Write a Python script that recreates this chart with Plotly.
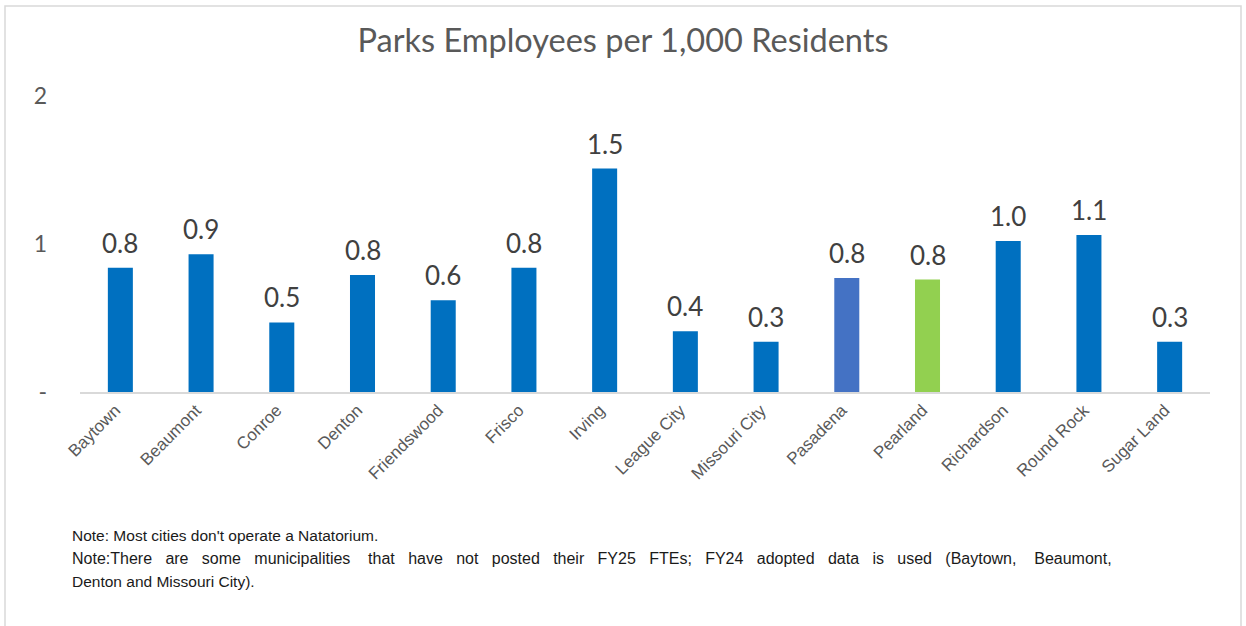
import plotly.graph_objects as go

# Parks staffing per 1,000 residents by city
cities = ["Baytown", "Beaumont", "Conroe", "Denton", "Friendswood", "Frisco", "Irving",
          "League City", "Missouri City", "Pasadena", "Pearland", "Richardson",
          "Round Rock", "Sugar Land"]
employees_per_1000 = [0.84, 0.93, 0.47, 0.79, 0.62, 0.84, 1.51,
                      0.41, 0.34, 0.77, 0.76, 1.02, 1.06, 0.34]
y_tick_values = [0, 1, 2]
y_tick_labels = ["-", "1", "2"]

BLUE = "#0070C0"
bar_colors = [BLUE] * len(cities)
bar_colors[cities.index("Pasadena")] = "#4472C4"
bar_colors[cities.index("Pearland")] = "#92D050"

note_lines = [
    "Note: Most cities don't operate a Natatorium.",
    "Note:There are some municipalities  that have not posted their FY25 FTEs; "
    "FY24 adopted data is used (Baytown,  Beaumont,",
    "Denton and Missouri City).",
]
justified_lines = [False, True, False]


def justify(text):
    """Spread the words of a full-width paragraph line (plain text, no markup)."""
    return text.replace("  ", "\u00a0").replace(" ", "   ").replace("\u00a0", "    ")


fig = go.Figure(
    go.Bar(
        x=cities,
        y=employees_per_1000,
        marker=dict(color=bar_colors, line=dict(width=0)),
        width=0.31,
        hoverinfo="x+y",
    )
)

# value labels above each bar
for city, value in zip(cities, employees_per_1000):
    fig.add_annotation(
        x=city, y=value, text=f"{value:.1f}",
        xanchor="center", yanchor="bottom", yshift=7,
        showarrow=False,
        font=dict(family="Lato, Carlito, sans-serif", size=26, color="#404040"),
    )

# plot area geometry (pixels) used to place the outer frame and notes
W, H = 1246, 626
L, R, T, B = 80, 36, 96, 234
pw, ph = W - L - R, H - T - B


def px_x(x):
    return (x - L) / pw


def px_y(y):
    return (H - B - y) / ph


fig.add_shape(
    type="rect", xref="paper", yref="paper",
    x0=px_x(5), x1=px_x(1241), y0=px_y(640), y1=px_y(6),
    line=dict(color="#d9d9d9", width=1.5), fillcolor="rgba(0,0,0,0)",
    layer="below",
)

for i, (line, just) in enumerate(zip(note_lines, justified_lines)):
    fig.add_annotation(
        text=justify(line) if just else line, xref="paper", yref="paper",
        x=px_x(70), y=px_y(535 + 23 * i), xanchor="left", yanchor="middle",
        align="left", showarrow=False,
        font=dict(family="Liberation Sans, Arial, sans-serif",
                  size=16 if just else 15.5, color="#1a1a1a"),
    )

fig.update_layout(
    width=W, height=H,
    margin=dict(l=L, r=R, t=T, b=B, pad=0),
    paper_bgcolor="white", plot_bgcolor="white",
    showlegend=False,
    bargap=0.69,
    title=dict(
        text="Parks Employees per 1,000 Residents",
        x=0.5, xref="container", xanchor="center",
        y=1 - 41 / H, yanchor="middle",
        font=dict(family="Lato, Carlito, sans-serif", size=32.5, color="#595959"),
    ),
    xaxis=dict(
        showline=True, linecolor="#d9d9d9", linewidth=1.5,
        showgrid=False, ticks="",
        tickangle=-45,
        ticklabelshift=-5,
        tickfont=dict(family="Liberation Sans, Arial, sans-serif", size=17, color="#595959"),
        fixedrange=True,
    ),
    yaxis=dict(
        range=[0, 2],
        tickvals=y_tick_values, ticktext=y_tick_labels,
        showgrid=False, zeroline=False, showline=False, ticks="",
        ticklabelstandoff=32,
        tickfont=dict(family="Lato, Carlito, sans-serif", size=23, color="#595959"),
        fixedrange=True,
    ),
)

fig.write_html("out.html")
